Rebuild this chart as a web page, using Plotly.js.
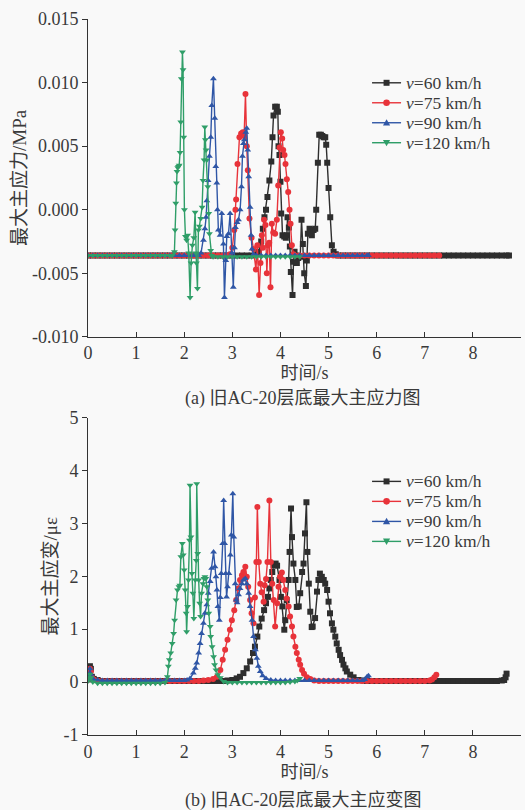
<!DOCTYPE html>
<html>
<head>
<meta charset="utf-8">
<script src="https://cdn.plot.ly/plotly-3.0.1.min.js"></script>
<style>
html,body{margin:0;padding:0;background:#f9f9f9;}
#chart{width:525px;height:810px;}
</style>
</head>
<body>
<div id="chart"></div>
<script>
// ---------- data ----------
const seriesNames = ['v=60 km/h', 'v=75 km/h', 'v=90 km/h', 'v=120 km/h'];
const legendLabels = ['<i>v</i>=60 km/h', '<i>v</i>=75 km/h', '<i>v</i>=90 km/h', '<i>v</i>=120 km/h'];
const xTicks = [0, 1, 2, 3, 4, 5, 6, 7, 8, 9];
const stressTickVals = [-0.010, -0.005, 0.000, 0.005, 0.010, 0.015];
const stressTickText = ['-0.010', '-0.005', '0.000', '0.005', '0.010', '0.015'];
const strainTickVals = [-1, 0, 1, 2, 3, 4, 5];
const strainTickText = ['-1', '0', '1', '2', '3', '4', '5'];
const captionA = '(a) 旧AC-20层底最大主应力图';
const captionB = '(b) 旧AC-20层底最大主应变图';
const xTitle = '时间/s';
const stressTitle = '最大主应力/MPa';
const strainTitle = '最大主应变/με';

// (a) stress, time in s, value in MPa
const stressT60 = [0,0.1,0.2,0.3,0.4,0.5,0.6,0.7,0.8,0.9,1.0,1.1,1.2,1.3,1.4,1.5,1.6,1.7,1.8,1.9,2.0,2.1,2.2,2.3,2.4,2.5,2.6,2.7,2.8,2.9,3.0,3.1,3.2,3.3,3.4,3.5,
  3.55,3.60,3.634,3.668,3.70,3.73,3.77,3.81,3.835,3.856,3.89,3.925,3.946,3.96,3.98,4.00,4.015,4.043,4.078,4.112,4.133,4.147,4.175,4.196,4.216,4.251,4.272,4.293,4.32,4.341,4.37,4.411,4.438,4.466,4.494,4.529,4.549,4.57,4.605,4.63,4.653,4.688,4.723,4.743,4.778,4.806,4.84,4.87,4.896,4.931,4.951,4.972,5.00,5.035,5.069,5.104,5.15,
  5.2,5.3,5.4,5.5,5.6,5.7,5.8,5.9,6.0,6.1,6.2,6.3,6.4,6.5,6.6,6.7,6.8,6.9,7.0,7.1,7.2,7.3,7.4,7.5,7.6,7.7,7.8,7.9,8.0,8.1,8.2,8.3,8.4,8.5,8.6,8.7,8.75];
const stressV60 = [-0.0036,-0.0036,-0.0036,-0.0036,-0.0036,-0.0036,-0.0036,-0.0036,-0.0036,-0.0036,-0.0036,-0.0036,-0.0036,-0.0036,-0.0036,-0.0036,-0.0036,-0.0036,-0.0036,-0.0036,-0.0036,-0.0036,-0.0036,-0.0036,-0.0036,-0.0036,-0.0036,-0.0036,-0.0036,-0.0036,-0.0036,-0.0036,-0.0036,-0.0036,-0.0036,-0.0035,
  -0.0033,-0.0025,-0.0015,-0.0006,0.0000,0.0010,0.0023,0.0038,0.0057,0.0074,0.0081,0.0081,0.0077,0.0050,0.0043,0.0022,-0.0003,-0.0020,-0.0021,-0.0022,-0.0020,-0.0006,-0.0014,-0.0029,-0.0049,-0.0067,-0.0041,-0.0033,-0.0036,-0.0042,-0.0038,-0.0037,-0.0008,-0.0027,-0.0050,-0.0060,-0.0040,-0.0019,-0.0015,-0.0018,-0.0020,-0.0016,-0.0015,0.0000,0.0037,0.0059,0.0059,0.0058,0.0057,0.0057,0.0051,0.0037,0.0017,-0.0006,-0.0028,-0.0033,-0.0035,
  -0.0036,-0.0036,-0.0036,-0.0036,-0.0036,-0.0036,-0.0036,-0.0036,-0.0036,-0.0036,-0.0036,-0.0036,-0.0036,-0.0036,-0.0036,-0.0036,-0.0036,-0.0036,-0.0036,-0.0036,-0.0036,-0.0036,-0.0036,-0.0036,-0.0036,-0.0036,-0.0036,-0.0036,-0.0036,-0.0036,-0.0036,-0.0036,-0.0036,-0.0036,-0.0036,-0.0036,-0.0036];

const stressT75 = [0,0.1,0.2,0.3,0.4,0.5,0.6,0.7,0.8,0.9,1.0,1.1,1.2,1.3,1.4,1.5,1.6,1.7,1.8,1.9,2.0,2.1,2.2,2.3,2.4,2.5,2.6,2.7,2.8,2.9,
  2.95,3.00,3.04,3.065,3.079,3.107,3.148,3.183,3.218,3.245,3.273,3.30,3.322,3.356,3.40,3.44,3.49,3.52,3.557,3.585,3.613,3.635,3.66,3.69,3.717,3.74,3.766,3.793,3.821,3.85,3.89,3.925,3.953,3.981,4.008,4.036,4.057,4.085,4.105,4.133,4.161,4.189,4.21,4.237,4.272,
  4.3,4.4,4.5,4.6,4.7,4.8,4.9,5.0,5.1,5.2,5.3,5.4,5.5,5.6,5.7,5.8,5.9,6.0,6.1,6.2,6.3,6.4,6.5,6.6,6.7,6.8,6.9,7.0,7.1,7.2,7.3];
const stressV75 = [-0.0036,-0.0036,-0.0036,-0.0036,-0.0036,-0.0036,-0.0036,-0.0036,-0.0036,-0.0036,-0.0036,-0.0036,-0.0036,-0.0036,-0.0036,-0.0036,-0.0036,-0.0036,-0.0036,-0.0036,-0.0036,-0.0036,-0.0036,-0.0036,-0.0036,-0.0036,-0.0036,-0.0036,-0.0036,-0.0036,
  -0.0035,-0.0030,-0.0016,0.0000,0.0008,0.0036,0.0057,0.0060,0.0061,0.0058,0.0091,0.0050,0.0031,-0.0007,-0.0022,-0.0031,-0.0047,-0.0028,-0.0067,-0.0042,-0.0020,-0.0030,-0.0008,-0.0012,-0.0050,-0.0028,-0.0026,-0.0061,-0.0011,-0.0018,-0.0019,-0.0008,0.0019,0.0049,0.0061,0.0056,0.0047,0.0043,0.0036,0.0024,0.0014,0.0000,-0.0011,-0.0028,-0.0035,
  -0.0036,-0.0036,-0.0036,-0.0036,-0.0036,-0.0036,-0.0036,-0.0036,-0.0036,-0.0036,-0.0036,-0.0036,-0.0036,-0.0036,-0.0036,-0.0036,-0.0036,-0.0036,-0.0036,-0.0036,-0.0036,-0.0036,-0.0036,-0.0036,-0.0036,-0.0036,-0.0036,-0.0036,-0.0036,-0.0036,-0.0036];

const stressT90 = [0,0.1,0.2,0.3,0.4,0.5,0.6,0.7,0.8,0.9,1.0,1.1,1.2,1.3,1.4,1.5,1.6,1.7,1.8,1.9,2.0,2.1,2.2,2.3,
  2.35,2.40,2.43,2.455,2.47,2.497,2.524,2.552,2.573,2.607,2.635,2.656,2.677,2.69,2.71,2.745,2.78,2.815,2.836,2.864,2.885,2.92,2.954,2.99,3.02,3.045,3.065,3.10,3.128,3.162,3.19,3.21,3.23,3.25,3.28,3.30,3.32,3.34,3.37,3.39,3.41,3.44,
  3.5,3.6,3.7,3.8,3.9,4.0,4.1,4.2,4.3,4.4,4.5,4.6,4.7,4.8,4.9,5.0,5.1,5.2,5.3,5.4,5.5,5.6,5.7,5.8,5.83];
const stressV90 = [-0.0036,-0.0036,-0.0036,-0.0036,-0.0036,-0.0036,-0.0036,-0.0036,-0.0036,-0.0036,-0.0036,-0.0036,-0.0036,-0.0036,-0.0036,-0.0036,-0.0036,-0.0036,-0.0036,-0.0036,-0.0036,-0.0036,-0.0036,-0.0036,
  -0.0034,-0.0024,-0.0015,-0.0006,0.0007,0.0023,0.0042,0.0057,0.0082,0.0103,0.0072,0.0034,0.0021,0.0000,-0.0016,-0.0020,-0.0003,-0.0027,-0.0069,-0.0040,-0.0021,-0.0019,-0.0003,-0.0034,-0.0061,-0.0030,-0.0014,-0.0010,-0.0008,0.0000,0.0018,0.0042,0.0052,0.0055,0.0061,0.0064,0.0047,0.0026,0.0002,-0.0020,-0.0031,-0.0035,
  -0.0036,-0.0036,-0.0036,-0.0036,-0.0036,-0.0036,-0.0036,-0.0036,-0.0036,-0.0036,-0.0036,-0.0036,-0.0036,-0.0036,-0.0036,-0.0036,-0.0036,-0.0036,-0.0036,-0.0036,-0.0036,-0.0036,-0.0036,-0.0036,-0.0036];

const stressT120 = [0,0.1,0.2,0.3,0.4,0.5,0.6,0.7,0.8,0.9,1.0,1.1,1.2,1.3,1.4,1.5,1.6,1.7,
  1.75,1.796,1.81,1.824,1.838,1.85,1.865,1.88,1.895,1.914,1.928,1.94,1.963,1.976,1.99,2.004,2.025,2.05,2.07,2.094,2.122,2.143,2.17,2.20,2.226,2.24,2.254,2.275,2.295,2.316,2.344,2.372,2.39,2.413,2.427,2.44,2.455,2.47,2.49,2.51,2.524,2.55,2.57,2.60,
  2.7,2.8,2.9,3.0,3.1,3.2,3.3,3.4,3.5,3.6,3.7,3.8,3.9,4.0,4.1,4.2,4.3,4.4];
const stressV120 = [-0.0036,-0.0036,-0.0036,-0.0036,-0.0036,-0.0036,-0.0036,-0.0036,-0.0036,-0.0036,-0.0036,-0.0036,-0.0036,-0.0036,-0.0036,-0.0036,-0.0036,-0.0036,
  -0.0036,-0.0033,-0.0016,0.0005,0.0021,0.0030,0.0033,0.0034,0.0035,0.0045,0.0069,0.0103,0.0124,0.0110,0.0057,0.0000,-0.0021,-0.0024,-0.0020,-0.0034,-0.0069,-0.0042,-0.0028,-0.0022,-0.0002,-0.0034,-0.0042,-0.0062,-0.0016,-0.0013,-0.0007,0.0002,0.0023,0.0039,0.0065,0.0055,0.0047,0.0039,0.0018,-0.0003,-0.0019,-0.0032,-0.0036,-0.0037,
  -0.0037,-0.0037,-0.0037,-0.0037,-0.0037,-0.0037,-0.0037,-0.0037,-0.0037,-0.0037,-0.0037,-0.0037,-0.0037,-0.0037,-0.0037,-0.0037,-0.0037,-0.0037];

// (b) strain, time in s, value in με
const strainT60 = [0,0.02,0.04,0.06,0.08,0.12,0.2,0.3,0.4,0.5,0.6,0.7,0.8,0.9,1.0,1.1,1.2,1.3,1.4,1.5,1.6,1.7,1.8,1.9,2.0,2.1,2.2,2.3,2.4,2.5,2.6,2.7,2.8,2.9,3.0,
  3.09,3.16,3.23,3.30,3.37,3.43,3.47,3.52,3.56,3.61,3.66,3.70,3.74,3.77,3.80,3.83,3.86,3.90,3.93,3.98,4.01,4.04,4.08,4.10,4.13,4.17,4.19,4.22,4.24,4.27,4.31,4.34,4.38,4.41,4.45,4.48,4.51,4.54,4.56,4.59,4.62,4.65,4.67,4.72,4.76,4.79,4.82,4.86,4.90,4.93,4.97,5.00,5.03,5.07,5.10,5.14,5.17,5.21,5.24,5.28,5.31,5.35,5.38,5.45,5.52,5.62,
  5.7,5.8,5.9,6.0,6.1,6.2,6.3,6.4,6.5,6.6,6.7,6.8,6.9,7.0,7.1,7.2,7.3,7.4,7.5,7.6,7.7,7.8,7.9,8.0,8.1,8.2,8.3,8.4,8.5,8.6,8.65,8.68,8.70];
const strainV60 = [0.05,0.15,0.30,0.25,0.10,0.06,0.04,0.02,0.02,0.02,0.02,0.02,0.02,0.02,0.02,0.02,0.02,0.02,0.02,0.02,0.02,0.02,0.02,0.02,0.02,0.02,0.02,0.02,0.02,0.02,0.02,0.02,0.02,0.03,0.04,
  0.07,0.10,0.17,0.26,0.39,0.55,0.67,0.86,1.05,1.20,1.36,1.49,1.61,1.77,1.93,2.08,2.21,2.24,2.20,1.93,1.61,1.43,0.99,1.17,1.55,1.93,2.46,3.28,2.74,2.24,1.93,1.42,1.43,1.68,2.08,2.24,2.81,3.40,2.46,1.86,1.33,1.04,1.05,1.21,1.71,1.93,2.05,1.99,1.93,1.86,1.74,1.52,1.30,1.11,0.99,0.86,0.73,0.61,0.51,0.42,0.33,0.26,0.20,0.14,0.09,0.04,
  0.03,0.02,0.02,0.02,0.02,0.02,0.02,0.02,0.02,0.02,0.02,0.02,0.02,0.02,0.02,0.02,0.02,0.02,0.02,0.02,0.02,0.02,0.02,0.02,0.02,0.02,0.02,0.02,0.02,0.03,0.04,0.09,0.16];

const strainT75 = [0,0.02,0.04,0.06,0.08,0.12,0.2,0.3,0.4,0.5,0.6,0.7,0.8,0.9,1.0,1.1,1.2,1.3,1.4,1.5,1.6,1.7,1.8,1.9,2.0,2.1,2.2,2.3,2.4,2.5,2.6,
  2.68,2.75,2.80,2.85,2.90,2.95,2.99,3.04,3.08,3.12,3.16,3.20,3.23,3.27,3.30,3.33,3.37,3.40,3.44,3.47,3.50,3.52,3.55,3.58,3.61,3.65,3.67,3.70,3.73,3.77,3.80,3.83,3.86,3.89,3.93,3.96,3.99,4.03,4.06,4.10,4.13,4.17,4.20,4.24,4.27,4.31,4.34,4.38,4.41,4.45,4.49,4.55,4.62,
  4.7,4.8,4.9,5.0,5.1,5.2,5.3,5.4,5.5,5.6,5.7,5.8,5.9,6.0,6.1,6.2,6.3,6.4,6.5,6.6,6.7,6.8,6.9,7.0,7.1,7.15,7.2,7.24];
const strainV75 = [0.05,0.12,0.25,0.20,0.08,0.05,0.03,0.02,0.02,0.02,0.02,0.02,0.02,0.02,0.02,0.02,0.02,0.02,0.02,0.02,0.02,0.02,0.02,0.02,0.02,0.02,0.02,0.02,0.03,0.04,0.06,
  0.10,0.23,0.42,0.61,0.80,0.99,1.17,1.36,1.55,1.77,1.93,2.02,2.08,2.18,1.99,1.80,1.55,1.30,1.11,1.60,2.27,3.31,2.27,1.86,1.70,1.52,1.83,1.95,2.27,3.43,2.27,1.86,1.55,1.05,1.49,1.80,1.99,2.07,1.93,1.74,1.58,1.43,1.24,1.05,0.86,0.67,0.55,0.42,0.33,0.23,0.16,0.09,0.06,
  0.03,0.02,0.02,0.02,0.02,0.02,0.02,0.02,0.02,0.02,0.02,0.02,0.02,0.02,0.02,0.02,0.02,0.02,0.02,0.02,0.02,0.02,0.02,0.02,0.03,0.05,0.09,0.14];

const strainT90 = [0,0.02,0.04,0.06,0.08,0.12,0.2,0.3,0.4,0.5,0.6,0.7,0.8,0.9,1.0,1.1,1.2,1.3,1.4,1.5,1.6,1.7,1.8,1.9,2.0,2.06,
  2.12,2.19,2.23,2.26,2.30,2.33,2.36,2.40,2.43,2.47,2.50,2.54,2.57,2.61,2.64,2.66,2.68,2.70,2.73,2.75,2.77,2.80,2.82,2.84,2.86,2.88,2.90,2.93,2.96,2.98,3.01,3.03,3.06,3.08,3.10,3.13,3.16,3.20,3.23,3.27,3.30,3.34,3.37,3.41,3.44,3.48,3.51,3.54,3.58,3.63,3.70,
  3.8,3.9,4.0,4.1,4.2,4.3,4.4,4.5,4.6,4.7,4.8,4.9,5.0,5.1,5.2,5.3,5.4,5.5,5.6,5.7,5.75,5.8,5.83];
const strainV90 = [0.05,0.15,0.25,0.15,0.07,0.05,0.04,0.03,0.03,0.03,0.03,0.03,0.03,0.03,0.03,0.03,0.03,0.03,0.03,0.03,0.03,0.03,0.03,0.03,0.03,0.04,
  0.07,0.17,0.26,0.36,0.55,0.73,0.92,1.11,1.30,1.46,1.68,1.90,2.15,2.46,2.18,1.99,1.74,1.43,1.17,1.60,2.05,2.62,3.43,2.62,2.05,1.61,1.80,2.05,2.40,2.78,3.56,2.74,1.86,1.55,1.50,1.65,1.77,1.86,1.93,1.96,1.86,1.68,1.43,1.17,0.86,0.61,0.45,0.30,0.20,0.12,0.07,
  0.04,0.03,0.03,0.03,0.03,0.03,0.03,0.03,0.03,0.03,0.03,0.03,0.03,0.03,0.03,0.03,0.03,0.03,0.03,0.03,0.05,0.10,0.12];

const strainT120 = [0,0.02,0.04,0.06,0.1,0.2,0.3,0.4,0.5,0.6,0.7,0.8,0.9,1.0,1.1,1.2,1.3,1.4,1.5,1.6,
  1.65,1.67,1.69,1.72,1.75,1.78,1.80,1.83,1.86,1.89,1.91,1.93,1.96,1.98,2.00,2.02,2.04,2.05,2.07,2.09,2.11,2.12,2.14,2.16,2.18,2.20,2.23,2.25,2.26,2.28,2.30,2.32,2.34,2.36,2.39,2.41,2.43,2.45,2.47,2.49,2.51,2.54,2.55,2.58,2.61,2.63,2.66,2.70,2.75,2.82,
  2.9,3.0,3.1,3.2,3.3,3.4,3.5,3.6,3.7,3.8,3.9,4.0,4.1,4.2,4.3,4.35,4.4];
const strainV120 = [0.02,0.08,0.15,0.08,0.00,-0.02,-0.02,-0.02,-0.02,-0.02,-0.02,-0.02,-0.02,-0.02,-0.02,-0.02,-0.02,-0.02,-0.02,-0.01,
  0.10,0.30,0.42,0.55,0.73,0.92,1.17,1.55,1.74,1.80,1.83,2.37,2.62,2.40,2.12,1.74,1.30,0.95,1.43,1.93,2.68,3.72,2.74,2.05,1.68,1.20,1.93,2.30,3.75,2.43,1.93,1.49,1.24,1.68,1.86,1.96,1.99,1.96,1.80,1.55,1.30,1.05,0.86,0.67,0.48,0.33,0.23,0.14,0.08,0.01,
  -0.01,-0.01,-0.01,-0.01,-0.01,-0.01,-0.01,-0.01,-0.01,-0.01,-0.01,-0.01,-0.01,0.00,0.01,0.03,0.07];

// ---------- styling ----------
const colors = ['#2e2e2e', '#e8333a', '#2f56a6', '#2f9e68'];
const symbols = ['square', 'circle', 'triangle-up', 'triangle-down'];
const serif = 'Liberation Serif, Times New Roman, Noto Sans CJK SC, serif';
const txtColor = '#3a3a3a';

const stressT = [stressT60, stressT75, stressT90, stressT120];
const stressV = [stressV60, stressV75, stressV90, stressV120];
const strainT = [strainT60, strainT75, strainT90, strainT120];
const strainV = [strainV60, strainV75, strainV90, strainV120];

const traces = [];
for (let i = 0; i < 4; i++) {
  traces.push({
    x: stressT[i], y: stressV[i], name: seriesNames[i], xaxis: 'x', yaxis: 'y',
    type: 'scatter', mode: 'lines+markers',
    line: {color: colors[i], width: 1.4},
    marker: {color: colors[i], symbol: symbols[i], size: 6, line: {width: 0}}
  });
}
for (let i = 0; i < 4; i++) {
  traces.push({
    x: strainT[i], y: strainV[i], name: seriesNames[i], xaxis: 'x2', yaxis: 'y2',
    type: 'scatter', mode: 'lines+markers',
    line: {color: colors[i], width: 1.4},
    marker: {color: colors[i], symbol: symbols[i], size: 6, line: {width: 0}}
  });
}

const tickFont = {family: serif, size: 18, color: txtColor};
const titleFont = {family: serif, size: 19, color: txtColor};
function xAxis(anchor) {
  return {
    anchor: anchor, domain: [0, 1], range: [0, 9], tickvals: xTicks,
    ticks: 'inside', ticklen: 5, tickwidth: 1, tickcolor: '#333',
    showline: true, linecolor: '#333', linewidth: 1, mirror: false,
    showgrid: false, zeroline: false, tickfont: tickFont,
    title: {text: xTitle, font: {family: serif, size: 18, color: txtColor}, standoff: 3}
  };
}
function yAxis(anchor, domain, range, tv, tt, title) {
  return {
    anchor: anchor, domain: domain, range: range, tickvals: tv, ticktext: tt,
    ticks: 'outside', ticklen: 5, tickwidth: 1, tickcolor: '#333',
    showline: true, linecolor: '#333', linewidth: 1, mirror: false,
    showgrid: false, zeroline: false, tickfont: tickFont,
    title: {text: title, font: titleFont, standoff: 0}
  };
}

// legend drawn by hand, one text per entry
const topLegY = [0.9109, 0.8830, 0.8551, 0.8272];
const botLegY = [0.3542, 0.3263, 0.2983, 0.2704];
const shapes = [];
const annotations = [];
const markerPaths = [
  null, null,
  'M-3.6,-2.8 L3.6,-2.8 L0,3.6 Z',
  'M-3.6,2.8 L3.6,2.8 L0,-3.6 Z'
];
[topLegY, botLegY].forEach(function (ys) {
  ys.forEach(function (yy, i) {
    shapes.push({type: 'line', xref: 'paper', yref: 'paper', x0: 0.656, x1: 0.723, y0: yy, y1: yy,
      line: {color: colors[i], width: 1.4}});
    const base = {xref: 'paper', yref: 'paper', xsizemode: 'pixel', ysizemode: 'pixel',
      xanchor: 0.6895, yanchor: yy, fillcolor: colors[i], line: {width: 0}};
    if (i === 0) shapes.push(Object.assign({type: 'rect', x0: -3, x1: 3, y0: -3, y1: 3}, base));
    else if (i === 1) shapes.push(Object.assign({type: 'circle', x0: -3.3, x1: 3.3, y0: -3.3, y1: 3.3}, base));
    else shapes.push(Object.assign({type: 'path', path: markerPaths[i]}, base));
    annotations.push({xref: 'paper', yref: 'paper', x: 0.733, y: yy, xanchor: 'left', yanchor: 'middle',
      text: legendLabels[i], showarrow: false, borderpad: 0,
      font: {family: serif, size: 17.5, color: txtColor}});
  });
});
annotations.push({xref: 'paper', yref: 'paper', x: 0.495, y: 0.4695, xanchor: 'center', yanchor: 'middle',
  text: captionA, showarrow: false, borderpad: 0, font: {family: serif, size: 18, color: txtColor}});
annotations.push({xref: 'paper', yref: 'paper', x: 0.497, y: -0.0917, xanchor: 'center', yanchor: 'middle',
  text: captionB, showarrow: false, borderpad: 0, font: {family: serif, size: 18, color: txtColor}});

const layout = {
  width: 525, height: 810,
  margin: {l: 88, r: 4, t: 19, b: 75},
  paper_bgcolor: '#f9f9f9', plot_bgcolor: '#f9f9f9',
  showlegend: false,
  xaxis: xAxis('y'),
  yaxis: yAxis('x', [0.5561, 1], [-0.010, 0.015], stressTickVals, stressTickText, stressTitle),
  xaxis2: xAxis('y2'),
  yaxis2: yAxis('x2', [0, 0.4434], [-1, 5], strainTickVals, strainTickText, strainTitle),
  shapes: shapes,
  annotations: annotations
};

Plotly.newPlot('chart', traces, layout, {displayModeBar: false, staticPlot: true});
</script>
</body>
</html>
